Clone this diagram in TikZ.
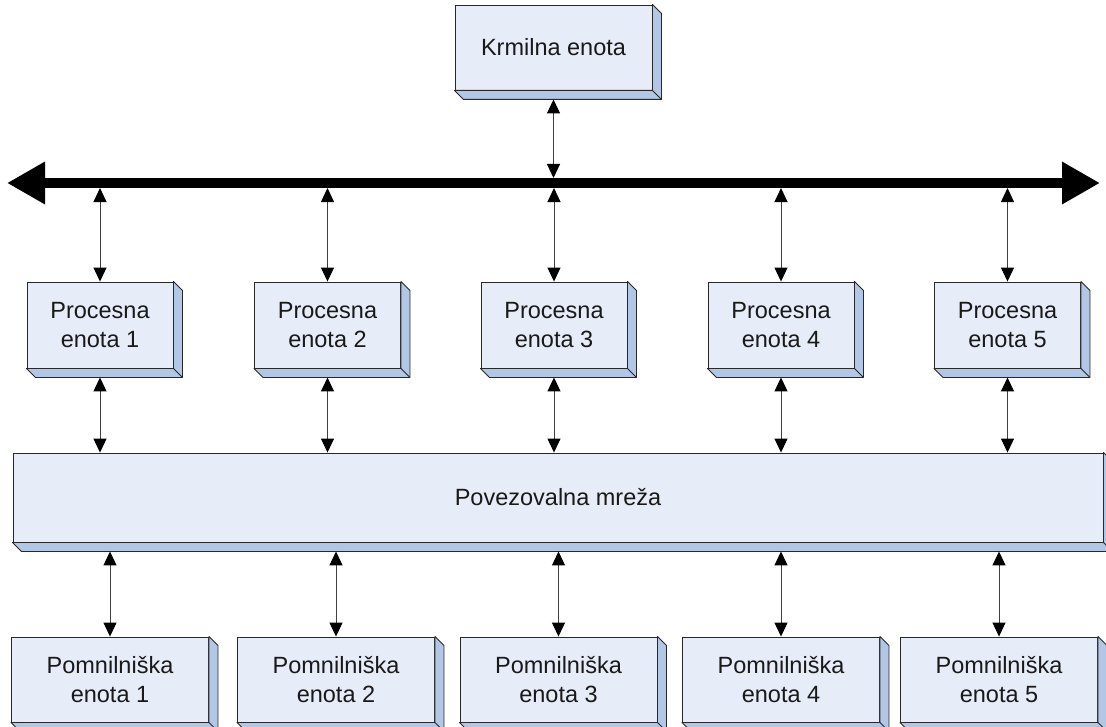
\documentclass[tikz,border=0pt]{standalone}
\usepackage{fontspec}
\setmainfont{Liberation Sans}
\usetikzlibrary{arrows.meta,calc}
\definecolor{frontc}{RGB}{231,237,248}
\definecolor{sidec}{RGB}{178,198,230}
\definecolor{edgec}{RGB}{40,40,40}
\definecolor{txtc}{RGB}{25,25,25}
\tikzset{
  box/.style={draw=edgec, line width=0.9bp, fill=frontc, align=center, inner sep=0pt,
    text=txtc, font=\fontsize{23.5bp}{29bp}\selectfont},
  pbox/.style={box, minimum width=146bp, minimum height=86bp},
  mbox/.style={box, minimum width=197bp, minimum height=85bp},
  side/.style={draw=edgec, line width=0.9bp, fill=sidec, line join=round},
  link/.style={draw=black!75, line width=1bp, {Triangle[length=14bp,width=13bp,color=black]}-{Triangle[length=14bp,width=13bp,color=black]}},
  bus/.style={draw=black, line width=10bp, {Triangle[length=38bp,width=40bp]}-{Triangle[length=38bp,width=40bp]}}
}
\begin{document}
\begin{tikzpicture}[x=1bp,y=-1bp]
\clip (0,0) rectangle (1106,727);
\fill[white] (0,0) rectangle (1106,727);

% boxes
\node[mbox] (K) at (553.5,47.5) {Krmilna enota};
\node[pbox] (P1) at (100,325) {Procesna\\enota 1};
\node[pbox] (P2) at (327.5,325) {Procesna\\enota 2};
\node[pbox] (P3) at (554,325) {Procesna\\enota 3};
\node[pbox] (P4) at (781,325) {Procesna\\enota 4};
\node[pbox] (P5) at (1007.5,325) {Procesna\\enota 5};
\node[box, minimum width=1090bp, minimum height=89bp] (N) at (558,497.5) {Povezovalna mreža};
\node[mbox] (M1) at (110,679.5) {Pomnilniška\\enota 1};
\node[mbox] (M2) at (336,679.5) {Pomnilniška\\enota 2};
\node[mbox] (M3) at (558.5,679.5) {Pomnilniška\\enota 3};
\node[mbox] (M4) at (781,679.5) {Pomnilniška\\enota 4};
\node[mbox] (M5) at (999,679.5) {Pomnilniška\\enota 5};

% 3D extrusions
\foreach \n in {K,P1,P2,P3,P4,P5,N,M1,M2,M3,M4,M5}{
  \draw[side] (\n.north east) -- ++(9,9) -- ($(\n.south east)+(9,9)$)
     -- ($(\n.south west)+(9,9)$) -- (\n.south west) -- (\n.south east) -- cycle;
  \draw[edgec, line width=0.9bp] (\n.south east) -- ++(9,9);
}

% bus
\coordinate (busL) at (7,183);
\coordinate (busR) at (1100,183);
\draw[bus] (busL) -- (busR);

% bus taps
\coordinate (bt) at (553.5,178);
\draw[link] ([yshift=-9bp]K.south) -- (K.south |- bt);
\coordinate (bb) at (0,188);
\foreach \n in {P1,P2,P3,P4,P5}{
  \draw[link] (\n.north |- bb) -- (\n.north);
  \draw[link] ([yshift=-9bp]\n.south) -- (\n.south |- N.north);
}
\foreach \n in {M1,M2,M3,M4,M5}{
  \draw[link] ($(\n.north |- N.south)+(0,9)$) -- (\n.north);
}
\end{tikzpicture}
\end{document}
